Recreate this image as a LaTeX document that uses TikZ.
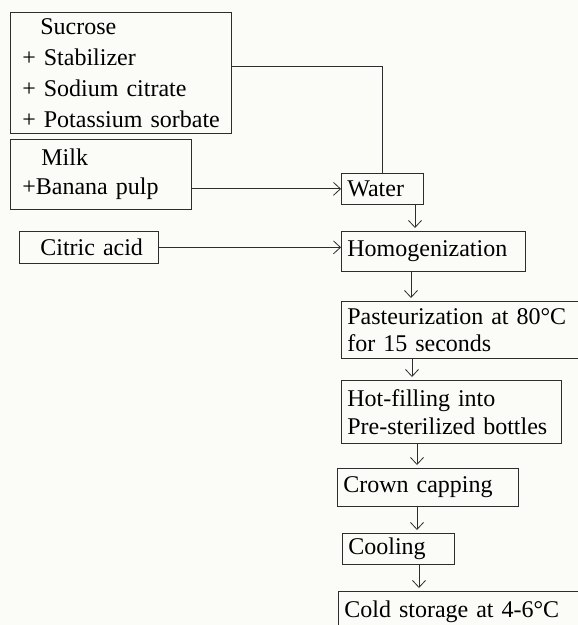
\documentclass[tikz,border=0pt]{standalone}
\usepackage{fontspec}
\setmainfont{Liberation Serif}
\usepackage{xcolor}
\usetikzlibrary{arrows.meta,positioning,calc}
\definecolor{paper}{RGB}{251,251,247}
\definecolor{ink}{RGB}{45,45,45}
\begin{document}
\begin{tikzpicture}[x=1pt,y=-1pt,font=\fontsize{24}{29}\selectfont,
  stage/.style={draw=ink,line width=0.7pt,anchor=north west,inner xsep=6pt,inner ysep=0pt,align=left,text=black},
  link/.style={ink,line width=0.8pt},
  flow/.style={link,-{Straight Barb[length=7pt,width=13pt]}}]
\fill[paper] (0,0) rectangle (578,625);
\useasboundingbox (0,0) rectangle (578,625);

\node[stage,text width=209pt,minimum height=121pt,font=\fontsize{24}{31}\selectfont] (sucrose) at (10,12)
  {\hspace*{24pt}Sucrose\\\hspace*{6pt}+ Stabilizer\\\hspace*{6pt}+ Sodium citrate\\\hspace*{6pt}+ Potassium sorbate};
\node[stage,text width=169pt,minimum height=70pt] (milk) at (10,139)
  {\hspace*{25pt}Milk\\\hspace*{6pt}+Banana pulp};
\node[stage,text width=127pt,minimum height=32pt] (citric) at (19,231) {\hspace*{15pt}Citric acid};

\node[stage,text width=70pt,minimum height=31pt] (water) at (341,173) {Water};
\node[stage,text width=172pt,minimum height=40pt] (homog) at (341,231) {Homogenization};
\node[stage,text width=228pt,minimum height=57pt,font=\fontsize{24}{27}\selectfont] (past) at (341,301)
  {Pasteurization at 80°C\\for 15 seconds};
\node[stage,text width=208pt,minimum height=63pt,font=\fontsize{24}{28}\selectfont] (hot) at (341,380)
  {Hot-filling into\\Pre-sterilized bottles};
\node[stage,text width=169pt,minimum height=38pt] (crown) at (337,468) {Crown capping};
\node[stage,text width=100pt,minimum height=31pt] (cool) at (342,533) {Cooling};
\node[stage,text width=230pt,minimum height=40pt] (cold) at (338,591) {Cold storage at 4-6°C};

\draw[link] ([yshift=6.5pt]sucrose.east) -| (water.north);
\draw[flow] (milk.east |- water.west) -- (water.west);
\draw[flow] (citric.east) -- (citric.east -| homog.west);
\foreach \a/\b/\x in {water/homog/415,homog/past/411,past/hot/412,hot/crown/417,crown/cool/417,cool/cold/419}
  \draw[flow,shorten >=3pt] (\a.south -| \x,0) -- (\b.north -| \x,0);
\end{tikzpicture}
\end{document}
